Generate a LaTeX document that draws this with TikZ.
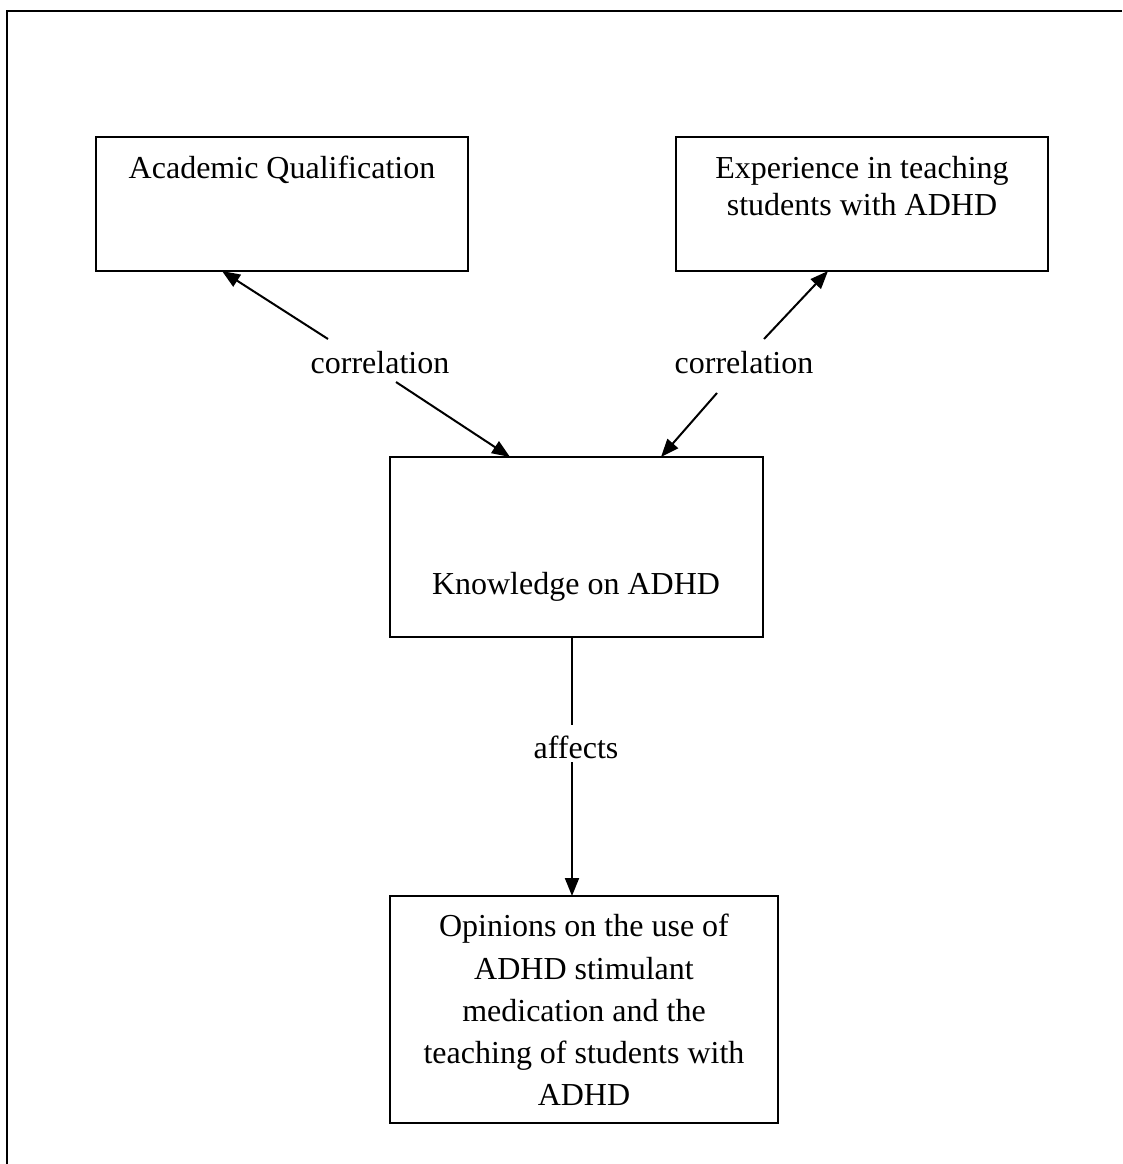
\documentclass[tikz,border=0pt]{standalone}
\usepackage{fontspec}
\setmainfont{Liberation Serif}
\usetikzlibrary{arrows.meta,calc}
\begin{document}
\begin{tikzpicture}[x=1pt,y=-1pt,
  boxnode/.style={draw, line width=1.7pt, inner sep=0pt},
  txt/.style={inner sep=0pt, align=center},
  big/.style={font=\fontsize{32}{37}\selectfont},
  conn/.style={line width=2pt},
  arr/.style={conn, -{Triangle[length=18pt,width=14pt]}},
  frameline/.style={line width=2.6pt}]
\useasboundingbox (0,0) rectangle (1122,1164);
% frame
\coordinate (ftl) at (7,11);
\coordinate (ftr) at (1122,11);
\coordinate (fbl) at (7,1164);
\draw[frameline] (ftr) -- (ftl) -- (fbl);
% boxes
\node[boxnode, minimum width=372pt, minimum height=134pt] (aq) at (282,204) {};
\node[boxnode, minimum width=372pt, minimum height=134pt] (exp) at (862,204) {};
\node[boxnode, minimum width=373pt, minimum height=180pt] (know) at (576.5,547) {};
\node[boxnode, minimum width=388pt, minimum height=227pt] (opin) at (584,1009.5) {};
% box texts
\node[txt, big, anchor=base] (aqt) at (282,178) {Academic Qualification};
\node[txt, big, anchor=north] (expt) at (862,156) {Experience in teaching\\students with ADHD};
\node[txt, big, anchor=base] (knowt) at (576,594) {Knowledge on ADHD};
\node[txt, anchor=north, font=\fontsize{32}{42.3}\selectfont] (opint) at (584,914) {Opinions on the use of\\ADHD stimulant\\medication and the\\teaching of students with\\ADHD};
% connector labels
\node[txt, big, anchor=base] (corl) at (380,373) {correlation};
\node[txt, big, anchor=base] (corr) at (744,373) {correlation};
\node[txt, big, anchor=base] (aff) at (576,758) {affects};
% connector end points
\coordinate (la) at (328,339);
\coordinate (lat) at (222,271);
\coordinate (lb) at (396,382);
\coordinate (lbt) at (510,457);
\coordinate (ra) at (764,339);
\coordinate (rat) at (828,271);
\coordinate (rb) at (717,393);
\coordinate (rbt) at (661,457);
\coordinate (va) at (572,637);
\coordinate (vb) at (572,725);
\coordinate (vc) at (572,762);
\coordinate (vct) at (572,896);
% connectors
\draw[arr] (la) -- (lat);
\draw[arr] (lb) -- (lbt);
\draw[arr] (ra) -- (rat);
\draw[arr] (rb) -- (rbt);
\draw[conn] (va) -- (vb);
\draw[arr] (vc) -- (vct);
\end{tikzpicture}
\end{document}
